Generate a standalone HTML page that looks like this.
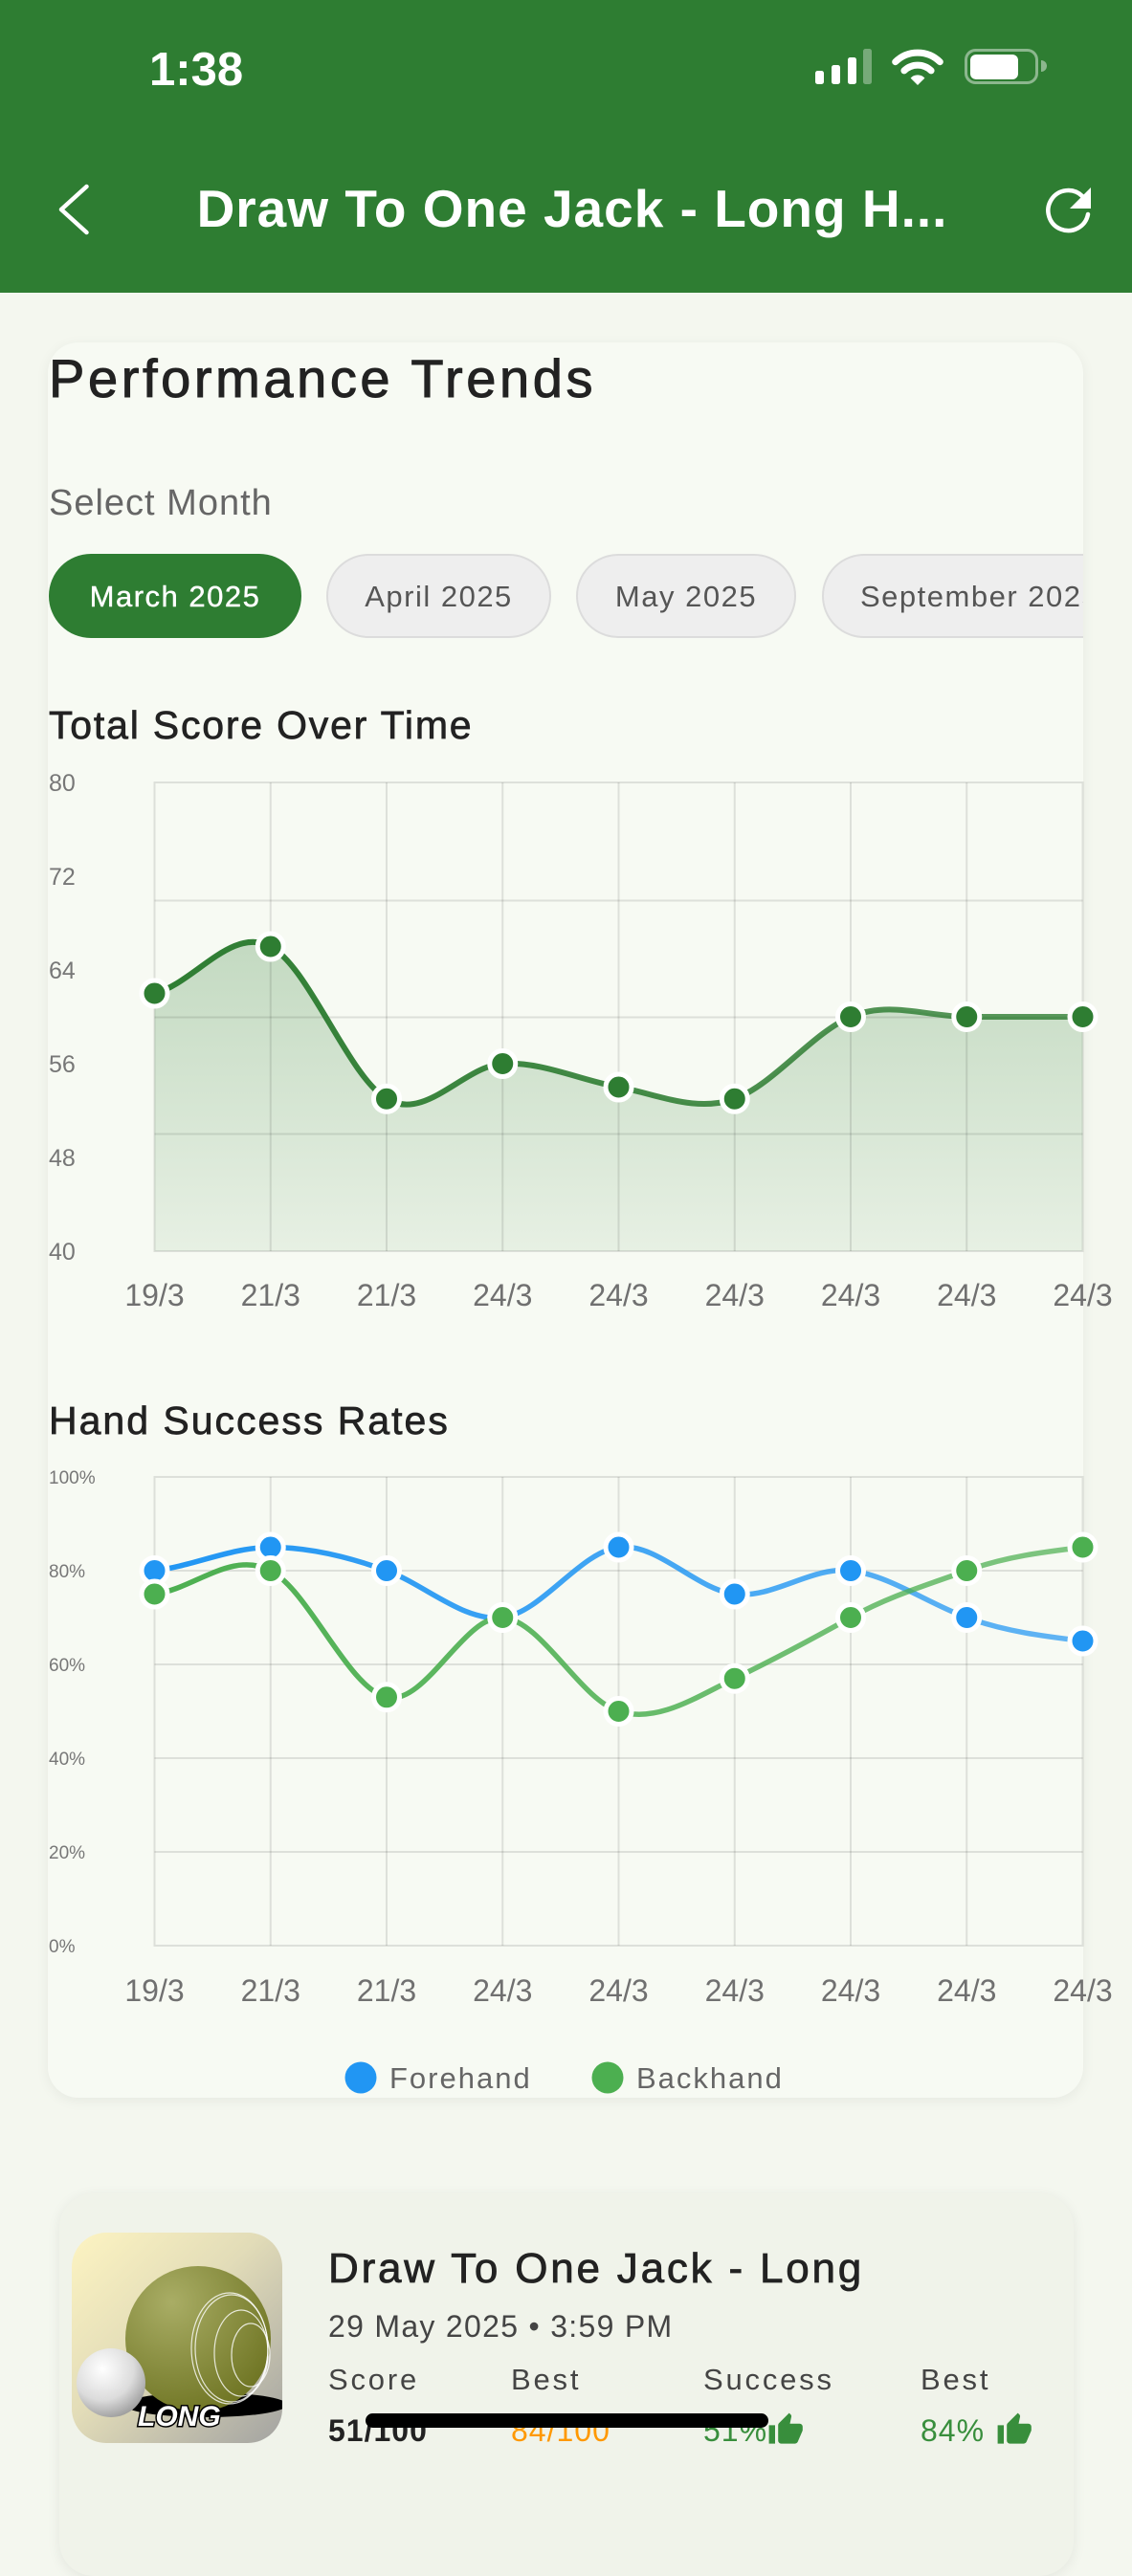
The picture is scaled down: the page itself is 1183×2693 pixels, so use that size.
<!DOCTYPE html>
<html>
<head>
<meta charset="utf-8">
<style>
  html, body { margin:0; padding:0; }
  body { width:1183px; height:2560px; overflow:hidden; background:#F4F7EF; position:relative; font-family:"Liberation Sans", sans-serif; }
  .hdr { position:absolute; left:0; top:0; width:1183px; height:306px; background:#2E7D32; }
  .card1 { position:absolute; left:50px; top:358px; width:1082px; height:1835px; border-radius:32px; background:#F7FAF3; box-shadow:0 3px 14px rgba(0,0,0,0.06); }
  .card2 { position:absolute; left:62px; top:2293px; width:1060px; height:400px; border-radius:36px; background:#F0F3EA; box-shadow:0 3px 14px rgba(0,0,0,0.07); }
  svg.ov { position:absolute; left:0; top:0; }
</style>
</head>
<body>
<div class="hdr"></div>
<div class="card1"></div>
<div class="card2"></div>

<svg class="ov" width="1183" height="2560" viewBox="0 0 1183 2560" xmlns="http://www.w3.org/2000/svg" font-family="Liberation Sans, sans-serif">
  <defs>
    <linearGradient id="f1" x1="0" y1="818" x2="0" y2="1308" gradientUnits="userSpaceOnUse">
      <stop offset="0" stop-color="#2E7D32" stop-opacity="0.35"/>
      <stop offset="1" stop-color="#2E7D32" stop-opacity="0.08"/>
    </linearGradient>
    <linearGradient id="s1" x1="161" y1="0" x2="1132" y2="0" gradientUnits="userSpaceOnUse">
      <stop offset="0" stop-color="#2E7D32" stop-opacity="1"/>
      <stop offset="1" stop-color="#2E7D32" stop-opacity="0.78"/>
    </linearGradient>
    <linearGradient id="sB" x1="161" y1="0" x2="1132" y2="0" gradientUnits="userSpaceOnUse">
      <stop offset="0" stop-color="#2196F3" stop-opacity="1"/>
      <stop offset="1" stop-color="#2196F3" stop-opacity="0.7"/>
    </linearGradient>
    <linearGradient id="sG" x1="161" y1="0" x2="1132" y2="0" gradientUnits="userSpaceOnUse">
      <stop offset="0" stop-color="#4CAF50" stop-opacity="1"/>
      <stop offset="1" stop-color="#4CAF50" stop-opacity="0.7"/>
    </linearGradient>
    <clipPath id="pillclip"><rect x="0" y="560" width="1132" height="120"/></clipPath>
    <clipPath id="imgc"><rect x="75" y="2334" width="220" height="220" rx="36"/></clipPath>
    <linearGradient id="ibg" x1="0" y1="0" x2="1" y2="1">
      <stop offset="0" stop-color="#FDF4C2"/>
      <stop offset="0.45" stop-color="#E2DCB8"/>
      <stop offset="1" stop-color="#A3A3A1"/>
    </linearGradient>
    <radialGradient id="bowl" cx="0.32" cy="0.25" r="0.85">
      <stop offset="0" stop-color="#A9AD65"/>
      <stop offset="1" stop-color="#6C7220"/>
    </radialGradient>
    <radialGradient id="ball" cx="0.38" cy="0.3" r="0.75">
      <stop offset="0" stop-color="#FFFFFF"/>
      <stop offset="0.6" stop-color="#DCDCDC"/>
      <stop offset="1" stop-color="#9A9A9A"/>
    </radialGradient>
  </defs>

  <!-- Status bar -->
  <text x="156" y="89" font-size="49" font-weight="bold" fill="#fff">1:38</text>
  <rect x="852" y="74" width="9" height="14" rx="2.5" fill="#fff"/>
  <rect x="869" y="68" width="9" height="20" rx="2.5" fill="#fff"/>
  <rect x="886" y="60" width="9" height="28" rx="2.5" fill="#fff"/>
  <rect x="902" y="51" width="9" height="37" rx="2.5" fill="#fff" fill-opacity="0.35"/>
  <path d="M935.7,64.7 A33,33 0 0 1 982.3,64.7" fill="none" stroke="#fff" stroke-width="7" stroke-linecap="round"/>
  <path d="M944.9,73.9 A20,20 0 0 1 973.1,73.9" fill="none" stroke="#fff" stroke-width="7" stroke-linecap="round"/>
  <path d="M959,89 L951.6,81.6 A10,10 0 0 1 966.4,81.6 Z" fill="#fff"/>
  <rect x="1009.5" y="52.5" width="74" height="34" rx="10" fill="none" stroke="#fff" stroke-opacity="0.45" stroke-width="3"/>
  <rect x="1014" y="57" width="50" height="26" rx="6" fill="#fff"/>
  <path d="M1088,63 a6,6 0 0 1 0,12 Z" fill="#fff" fill-opacity="0.45"/>

  <!-- Header -->
  <polyline points="90.5,195 64,219 90.5,243" fill="none" stroke="#fff" stroke-width="4.5" stroke-linecap="round" stroke-linejoin="round"/>
  <text x="598" y="237" font-size="55" font-weight="bold" fill="#fff" text-anchor="middle" letter-spacing="1">Draw To One Jack - Long H...</text>
  <path d="M1131,205 A21,21 0 1 0 1137,224" fill="none" stroke="#fff" stroke-width="4.5" stroke-linecap="round"/>
  <path d="M1140,196 L1140,218 L1118,218 Z" fill="#fff"/>

  <!-- Card 1 content -->
  <text x="51" y="415" font-size="56" fill="#222" stroke="#222" stroke-width="1" letter-spacing="3.6">Performance Trends</text>
  <text x="51" y="538" font-size="38" fill="#666" letter-spacing="1">Select Month</text>

  <g clip-path="url(#pillclip)">
    <rect x="51" y="579" width="264" height="88" rx="44" fill="#2E7D32"/>
    <text x="183" y="634" font-size="31" fill="#fff" stroke="#fff" stroke-width="0.4" text-anchor="middle" letter-spacing="1.5">March 2025</text>
    <rect x="342" y="580" width="233" height="86" rx="43" fill="#EEEEEE" stroke="#DCDCDC" stroke-width="2"/>
    <text x="458.5" y="634" font-size="31" fill="#555" text-anchor="middle" letter-spacing="1.5">April 2025</text>
    <rect x="603" y="580" width="228" height="86" rx="43" fill="#EEEEEE" stroke="#DCDCDC" stroke-width="2"/>
    <text x="717" y="634" font-size="31" fill="#555" text-anchor="middle" letter-spacing="1.5">May 2025</text>
    <rect x="860" y="580" width="320" height="86" rx="43" fill="#EEEEEE" stroke="#DCDCDC" stroke-width="2"/>
    <text x="899" y="634" font-size="31" fill="#555" letter-spacing="1.5">September 2025</text>
  </g>

  <!-- Chart 1 -->
  <text x="51" y="772" font-size="41" fill="#222" stroke="#222" stroke-width="0.7" letter-spacing="1.8">Total Score Over Time</text>
  <path d="M161.5,1038.5 C201.9,1028.7 242.3,967.45 282.75,989.5 C323.2,1011.55 363.6,1124.25 404,1148.75 C444.4,1173.25 484.8,1114.45 525.25,1112 C565.7,1109.55 606.1,1129.15 646.5,1136.5 C686.9,1143.85 727.3,1163.45 767.75,1148.75 C808.2,1134.05 848.6,1080.15 889,1063 C929.4,1045.85 969.8,1063 1010.25,1063 C1050.7,1063 1091.1,1063 1131.5,1063 L1131.5,1308 L161.5,1308 Z" fill="url(#f1)"/>
  <g stroke="#000" stroke-opacity="0.1" stroke-width="2" fill="none">
    <rect x="161.5" y="818" width="970" height="490"/>
    <line x1="161.5" y1="941.5" x2="1131.5" y2="941.5"/>
    <line x1="161.5" y1="1063.5" x2="1131.5" y2="1063.5"/>
    <line x1="161.5" y1="1185.5" x2="1131.5" y2="1185.5"/>
    <line x1="282.75" y1="818" x2="282.75" y2="1308"/>
    <line x1="404" y1="818" x2="404" y2="1308"/>
    <line x1="525.25" y1="818" x2="525.25" y2="1308"/>
    <line x1="646.5" y1="818" x2="646.5" y2="1308"/>
    <line x1="767.75" y1="818" x2="767.75" y2="1308"/>
    <line x1="889" y1="818" x2="889" y2="1308"/>
    <line x1="1010.25" y1="818" x2="1010.25" y2="1308"/>
  </g>
  <path d="M161.5,1038.5 C201.9,1028.7 242.3,967.45 282.75,989.5 C323.2,1011.55 363.6,1124.25 404,1148.75 C444.4,1173.25 484.8,1114.45 525.25,1112 C565.7,1109.55 606.1,1129.15 646.5,1136.5 C686.9,1143.85 727.3,1163.45 767.75,1148.75 C808.2,1134.05 848.6,1080.15 889,1063 C929.4,1045.85 969.8,1063 1010.25,1063 C1050.7,1063 1091.1,1063 1131.5,1063" fill="none" stroke="url(#s1)" stroke-width="6" stroke-linecap="round"/>
  <g fill="#2E7D32" stroke="#fff" stroke-width="5">
    <circle cx="161.5" cy="1038.5" r="13.5"/>
    <circle cx="282.75" cy="989.5" r="13.5"/>
    <circle cx="404" cy="1148.75" r="13.5"/>
    <circle cx="525.25" cy="1112" r="13.5"/>
    <circle cx="646.5" cy="1136.5" r="13.5"/>
    <circle cx="767.75" cy="1148.75" r="13.5"/>
    <circle cx="889" cy="1063" r="13.5"/>
    <circle cx="1010.25" cy="1063" r="13.5"/>
    <circle cx="1131.5" cy="1063" r="13.5"/>
  </g>
  <g font-size="25" fill="#777">
    <text x="51" y="827">80</text>
    <text x="51" y="925">72</text>
    <text x="51" y="1023">64</text>
    <text x="51" y="1121">56</text>
    <text x="51" y="1219">48</text>
    <text x="51" y="1317">40</text>
  </g>
  <g font-size="32" fill="#707070" text-anchor="middle">
    <text x="161.5" y="1365">19/3</text>
    <text x="282.75" y="1365">21/3</text>
    <text x="404" y="1365">21/3</text>
    <text x="525.25" y="1365">24/3</text>
    <text x="646.5" y="1365">24/3</text>
    <text x="767.75" y="1365">24/3</text>
    <text x="889" y="1365">24/3</text>
    <text x="1010.25" y="1365">24/3</text>
    <text x="1131.5" y="1365">24/3</text>
  </g>

  <!-- Chart 2 -->
  <text x="51" y="1499" font-size="41" fill="#222" stroke="#222" stroke-width="0.7" letter-spacing="2">Hand Success Rates</text>
  <g stroke="#000" stroke-opacity="0.1" stroke-width="2" fill="none">
    <rect x="161.5" y="1544" width="970" height="490"/>
    <line x1="161.5" y1="1642" x2="1131.5" y2="1642"/>
    <line x1="161.5" y1="1740" x2="1131.5" y2="1740"/>
    <line x1="161.5" y1="1838" x2="1131.5" y2="1838"/>
    <line x1="161.5" y1="1936" x2="1131.5" y2="1936"/>
    <line x1="282.75" y1="1544" x2="282.75" y2="2034"/>
    <line x1="404" y1="1544" x2="404" y2="2034"/>
    <line x1="525.25" y1="1544" x2="525.25" y2="2034"/>
    <line x1="646.5" y1="1544" x2="646.5" y2="2034"/>
    <line x1="767.75" y1="1544" x2="767.75" y2="2034"/>
    <line x1="889" y1="1544" x2="889" y2="2034"/>
    <line x1="1010.25" y1="1544" x2="1010.25" y2="2034"/>
  </g>
  <path d="M161.5,1642 C201.9,1637.1 242.3,1617.5 282.75,1617.5 C323.2,1617.5 363.6,1627.3 404,1642 C444.4,1656.7 484.8,1695.9 525.25,1691 C565.7,1686.1 606.1,1622.4 646.5,1617.5 C686.9,1612.6 727.3,1661.6 767.75,1666.5 C808.2,1671.4 848.6,1637.1 889,1642 C929.4,1646.9 969.8,1676.3 1010.25,1691 C1050.7,1705.7 1091.1,1710.6 1131.5,1715.5" fill="none" stroke="url(#sB)" stroke-width="5.5" stroke-linecap="round"/>
  <g fill="#2196F3" stroke="#fff" stroke-width="5">
    <circle cx="161.5" cy="1642" r="13.5"/>
    <circle cx="282.75" cy="1617.5" r="13.5"/>
    <circle cx="404" cy="1642" r="13.5"/>
    <circle cx="525.25" cy="1691" r="13.5"/>
    <circle cx="646.5" cy="1617.5" r="13.5"/>
    <circle cx="767.75" cy="1666.5" r="13.5"/>
    <circle cx="889" cy="1642" r="13.5"/>
    <circle cx="1010.25" cy="1691" r="13.5"/>
    <circle cx="1131.5" cy="1715.5" r="13.5"/>
  </g>
  <path d="M161.5,1666.5 C201.9,1661.6 242.3,1620.44 282.75,1642 C323.2,1663.56 363.6,1764.5 404,1774.3 C444.4,1784.1 484.8,1688.06 525.25,1691 C565.7,1693.94 606.1,1776.26 646.5,1789 C686.9,1801.74 727.3,1774.3 767.75,1754.7 C808.2,1735.1 848.6,1713.54 889,1691 C929.4,1668.46 969.8,1656.7 1010.25,1642 C1050.7,1627.3 1091.1,1622.4 1131.5,1617.5" fill="none" stroke="url(#sG)" stroke-width="5.5" stroke-linecap="round"/>
  <g fill="#4CAF50" stroke="#fff" stroke-width="5">
    <circle cx="161.5" cy="1666.5" r="13.5"/>
    <circle cx="282.75" cy="1642" r="13.5"/>
    <circle cx="404" cy="1774.3" r="13.5"/>
    <circle cx="525.25" cy="1691" r="13.5"/>
    <circle cx="646.5" cy="1789" r="13.5"/>
    <circle cx="767.75" cy="1754.7" r="13.5"/>
    <circle cx="889" cy="1691" r="13.5"/>
    <circle cx="1010.25" cy="1642" r="13.5"/>
    <circle cx="1131.5" cy="1617.5" r="13.5"/>
  </g>
  <g font-size="19" fill="#777">
    <text x="51" y="1551">100%</text>
    <text x="51" y="1649">80%</text>
    <text x="51" y="1747">60%</text>
    <text x="51" y="1845">40%</text>
    <text x="51" y="1943">20%</text>
    <text x="51" y="2041">0%</text>
  </g>
  <g font-size="32" fill="#707070" text-anchor="middle">
    <text x="161.5" y="2092">19/3</text>
    <text x="282.75" y="2092">21/3</text>
    <text x="404" y="2092">21/3</text>
    <text x="525.25" y="2092">24/3</text>
    <text x="646.5" y="2092">24/3</text>
    <text x="767.75" y="2092">24/3</text>
    <text x="889" y="2092">24/3</text>
    <text x="1010.25" y="2092">24/3</text>
    <text x="1131.5" y="2092">24/3</text>
  </g>
  <circle cx="377" cy="2172" r="16.5" fill="#2196F3"/>
  <text x="407" y="2183" font-size="31" fill="#666" letter-spacing="2">Forehand</text>
  <circle cx="635" cy="2172" r="16.5" fill="#4CAF50"/>
  <text x="665" y="2183" font-size="31" fill="#666" letter-spacing="2">Backhand</text>

  <!-- Bottom card -->
  <g clip-path="url(#imgc)">
    <rect x="75" y="2334" width="220" height="220" fill="url(#ibg)"/>
    <ellipse cx="215" cy="2514" rx="85" ry="13" fill="#000"/>
    <circle cx="207" cy="2445" r="76" fill="url(#bowl)"/>
    <g fill="none" stroke="#fff" stroke-opacity="0.8" stroke-width="1.2">
      <ellipse cx="240" cy="2455" rx="40" ry="58"/>
      <ellipse cx="242" cy="2455" rx="38" ry="56"/>
      <ellipse cx="252" cy="2460" rx="28" ry="45"/>
      <ellipse cx="262" cy="2462" rx="20" ry="33"/>
    </g>
    <circle cx="116" cy="2491" r="36" fill="url(#ball)"/>
    <text x="144" y="2536" font-size="30" font-weight="bold" font-style="italic" fill="#fff" stroke="#000" stroke-width="3" paint-order="stroke">LONG</text>
  </g>
  <text x="343" y="2386" font-size="44" fill="#222" stroke="#222" stroke-width="0.8" letter-spacing="2.8">Draw To One Jack - Long</text>
  <text x="343" y="2443" font-size="32" fill="#444" letter-spacing="1.3">29 May 2025 • 3:59 PM</text>
  <g font-size="31" fill="#444" letter-spacing="2.8">
    <text x="343" y="2498">Score</text>
    <text x="534" y="2498">Best</text>
    <text x="735" y="2498">Success</text>
    <text x="962" y="2498">Best</text>
  </g>
  <g font-size="32" letter-spacing="1">
    <text x="343" y="2552" fill="#222" font-weight="bold">51/100</text>
    <text x="534" y="2552" fill="#FF9800">84/100</text>
    <text x="735" y="2552" fill="#388E3C">51%</text>
    <text x="962" y="2552" fill="#388E3C">84%</text>
  </g>
  <g fill="#388E3C">
    <path transform="translate(802,2521) scale(1.6)" d="M1 21h4V9H1v12zm22-11c0-1.1-.9-2-2-2h-6.31l.95-4.570.03-.32c0-.41-.17-.79-.44-1.060L14.17 1 7.59 7.59C7.22 7.95 7 8.45 7 9v10c0 1.1.9 2 2 2h9c.83 0 1.54-.5 1.84-1.22l3.02-7.05c.09-.23.14-.47.14-.73v-2z"/>
    <path transform="translate(1041,2521) scale(1.6)" d="M1 21h4V9H1v12zm22-11c0-1.1-.9-2-2-2h-6.31l.95-4.570.03-.32c0-.41-.17-.79-.44-1.060L14.17 1 7.59 7.59C7.22 7.95 7 8.45 7 9v10c0 1.1.9 2 2 2h9c.83 0 1.54-.5 1.84-1.22l3.02-7.05c.09-.23.14-.47.14-.73v-2z"/>
  </g>

  <!-- Home indicator -->
  <rect x="382" y="2523" width="421" height="15" rx="7.5" fill="#000"/>
</svg>
</body>
</html>
